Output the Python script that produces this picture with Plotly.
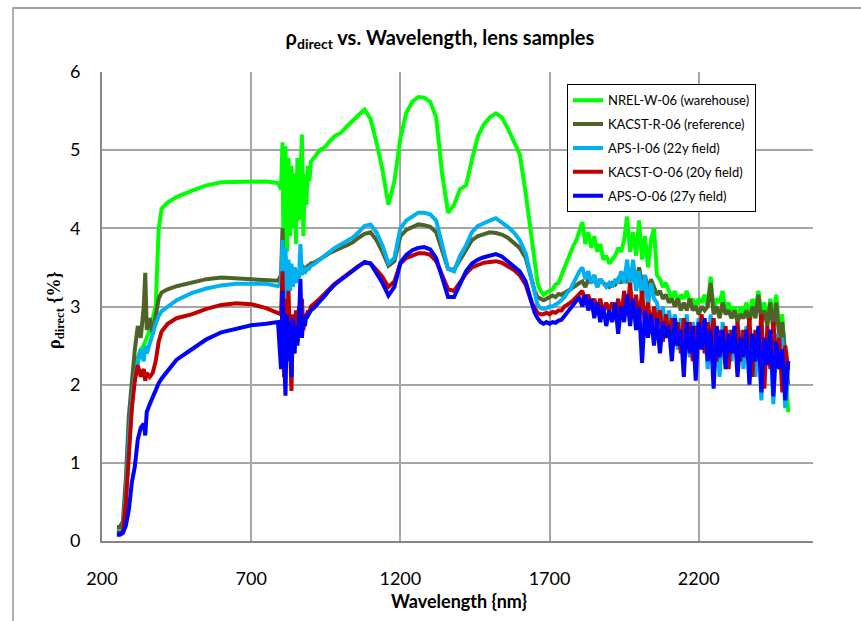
import plotly.graph_objects as go

# Sampling wavelengths (nm)
wavelength_nm = (
    [250, 260, 270, 280, 290, 300, 310, 320, 330, 340, 345, 350, 360,
     370, 380, 390, 400, 420, 450, 500, 550, 600, 650, 700, 750, 790]
    + list(range(800, 901, 5))
    + list(range(910, 1001, 10))
    + list(range(1020, 1641, 20))
    + list(range(1650, 2501, 10))
)

series_names = ["NREL-W-06 (warehouse)", "KACST-R-06 (reference)", "APS-I-06 (22y field)",
                "KACST-O-06 (20y field)", "APS-O-06 (27y field)"]

nrel_w = (
    [0.15, 0.15, 0.18, 0.5, 1.2, 1.8, 2.2, 2.35, 2.45, 2.5, 2.55, 2.6, 2.7,
     2.85, 3.0, 4.0, 4.25, 4.33, 4.4, 4.48, 4.55, 4.59, 4.59, 4.6, 4.6, 4.58]
    + [4.5, 5.1, 3.0, 5.05, 3.7, 4.9, 3.9, 4.8, 4.0, 4.7, 3.8, 4.9, 4.1, 4.6, 5.2, 3.9, 4.7, 4.3, 4.8, 4.6, 4.85]
    + [4.9, 4.95, 5.0, 5.02, 5.05, 5.1, 5.15, 5.18, 5.2, 5.22]
    + [5.3, 5.38, 5.45, 5.52, 5.4, 5.1, 4.75, 4.3, 4.6, 5.15, 5.48, 5.62, 5.68, 5.67, 5.62, 5.42,
       4.7, 4.2, 4.3, 4.5, 4.55, 4.88, 5.18, 5.33, 5.42, 5.47, 5.42, 5.28, 5.12, 4.95, 4.45, 3.85]
    + [3.55, 3.3, 3.2, 3.15, 3.18, 3.2, 3.22, 3.28, 3.3, 3.4,
       3.5, 3.6, 3.7, 3.78, 3.85, 3.95, 4.08, 3.8, 3.95, 3.75,
       3.9, 3.7, 3.8, 3.6, 3.65, 3.55, 3.6, 3.65, 3.75, 3.7,
       3.85, 4.15, 3.7, 3.95, 3.65, 4.1, 3.6, 3.9, 3.5, 3.85,
       4.0, 3.4, 3.35, 3.25, 3.3, 3.2, 3.1, 3.2, 3.05, 3.15,
       3.1, 3.2, 3.05, 3.1, 3.0, 3.1, 3.05, 3.15, 3.0, 3.38,
       2.95, 3.1, 3.05, 3.2, 2.95, 3.05, 2.9, 3.0, 2.85, 3.0,
       2.9, 3.05, 2.85, 3.1, 2.95, 3.2, 2.9, 3.05, 2.8, 3.1,
       2.85, 3.15, 2.7, 2.9, 2.3, 1.65]
)

kacst_r = (
    [0.18, 0.18, 0.25, 0.8, 1.6, 2.1, 2.45, 2.75, 2.6, 3.0, 3.43, 2.7, 2.85,
     2.65, 2.9, 3.1, 3.18, 3.22, 3.26, 3.3, 3.35, 3.37, 3.36, 3.35, 3.35, 3.33]
    + [3.4, 4.0, 3.3, 3.6, 3.35, 3.55, 3.4, 3.5, 3.35, 3.5, 3.4, 3.45, 3.4, 3.5, 3.45, 3.5, 3.48, 3.5, 3.52, 3.5, 3.55]
    + [3.56, 3.58, 3.6, 3.62, 3.65, 3.68, 3.7, 3.72, 3.73, 3.75]
    + [3.78, 3.82, 3.88, 3.93, 3.95, 3.85, 3.7, 3.52, 3.58, 3.9, 3.98, 4.02, 4.05, 4.04, 4.02, 3.95,
       3.7, 3.48, 3.47, 3.6, 3.72, 3.85, 3.9, 3.93, 3.95, 3.94, 3.92, 3.88, 3.82, 3.75, 3.62, 3.35]
    + [3.2, 3.12, 3.1, 3.08, 3.1, 3.12, 3.14, 3.12, 3.16, 3.15,
       3.18, 3.2, 3.22, 3.25, 3.28, 3.3, 3.32, 3.25, 3.35, 3.3,
       3.4, 3.25, 3.35, 3.3, 3.28, 3.25, 3.3, 3.28, 3.35, 3.3,
       3.4, 3.3, 3.45, 3.35, 3.3, 3.5, 3.3, 3.4, 3.2, 3.35,
       3.25, 3.15, 3.2, 3.1, 3.15, 3.05, 3.1, 3.0, 3.1, 2.95,
       3.05, 2.95, 3.1, 2.95, 3.0, 2.9, 3.0, 2.95, 3.0, 3.3,
       2.9, 3.0, 2.85, 3.05, 2.9, 2.95, 2.85, 2.95, 2.8, 2.9,
       2.85, 2.95, 2.8, 3.0, 2.85, 3.15, 2.8, 2.95, 2.75, 3.05,
       2.7, 3.05, 2.6, 2.8, 2.4, 2.0]
)

aps_i = (
    [0.12, 0.12, 0.15, 0.6, 1.3, 1.8, 2.1, 2.3, 2.45, 2.3, 2.5, 2.4, 2.55,
     2.65, 2.78, 2.88, 2.94, 3.0, 3.08, 3.17, 3.23, 3.27, 3.29, 3.29, 3.29, 3.26]
    + [3.3, 3.85, 3.0, 3.75, 3.1, 3.6, 3.2, 3.55, 3.25, 3.5, 3.3, 3.45, 3.35, 3.8, 3.4, 3.5, 3.42, 3.5, 3.48, 3.5, 3.52]
    + [3.54, 3.57, 3.6, 3.63, 3.66, 3.7, 3.73, 3.75, 3.77, 3.79]
    + [3.83, 3.88, 3.95, 4.03, 4.05, 3.95, 3.78, 3.55, 3.62, 4.0, 4.1, 4.15, 4.2, 4.2, 4.18, 4.1,
       3.78, 3.48, 3.45, 3.65, 3.78, 3.95, 4.03, 4.07, 4.1, 4.13, 4.08, 4.02, 3.95, 3.85, 3.68, 3.35]
    + [3.15, 3.02, 2.98, 2.97, 2.98, 3.0, 3.0, 3.02, 3.05, 3.08,
       3.12, 3.18, 3.22, 3.3, 3.38, 3.45, 3.5, 3.35, 3.45, 3.3,
       3.4, 3.25, 3.35, 3.3, 3.25, 3.3, 3.25, 3.35, 3.3, 3.45,
       3.3, 3.6, 3.25, 3.6, 3.2, 3.45, 3.1, 3.4, 3.0, 3.3,
       3.1, 3.05, 2.8, 3.0, 2.6, 2.95, 2.7, 2.9, 2.45, 2.85,
       2.6, 2.9, 2.35, 2.8, 2.55, 2.85, 2.5, 2.8, 2.2, 2.9,
       2.4, 2.75, 2.1, 2.8, 2.5, 2.7, 2.3, 2.75, 2.45, 2.7,
       2.2, 2.75, 2.4, 2.65, 2.1, 2.7, 1.8, 2.6, 2.3, 2.7,
       1.75, 2.65, 2.2, 2.6, 1.7, 2.3]
)

kacst_o = (
    [0.1, 0.1, 0.12, 0.5, 1.1, 1.7, 2.05, 2.25, 2.1, 2.2, 2.05, 2.15, 2.1,
     2.15, 2.3, 2.55, 2.68, 2.78, 2.85, 2.9, 2.97, 3.02, 3.04, 3.03, 2.98, 2.92]
    + [2.9, 3.45, 2.1, 3.1, 2.5, 3.2, 2.3, 1.92, 2.9, 2.4, 2.95, 2.55, 3.0, 2.6, 3.1, 2.7, 2.9, 2.85, 2.95, 2.92, 3.0]
    + [3.03, 3.06, 3.1, 3.14, 3.18, 3.22, 3.26, 3.29, 3.32, 3.35]
    + [3.4, 3.46, 3.52, 3.56, 3.55, 3.47, 3.38, 3.25, 3.32, 3.55, 3.62, 3.65, 3.68, 3.68, 3.66, 3.58,
       3.4, 3.22, 3.2, 3.32, 3.42, 3.5, 3.53, 3.56, 3.57, 3.58, 3.56, 3.52, 3.47, 3.4, 3.28, 3.05]
    + [2.98, 2.92, 2.9, 2.9, 2.92, 2.9, 2.93, 2.92, 2.95, 2.95,
       3.0, 3.02, 3.05, 3.08, 3.12, 3.15, 3.2, 3.05, 3.15, 3.0,
       3.1, 2.95, 3.1, 2.9, 3.05, 2.95, 3.05, 2.9, 3.1, 2.85,
       3.2, 2.9, 3.3, 2.85, 3.15, 2.8, 3.2, 2.75, 3.05, 2.7,
       3.0, 2.75, 2.95, 2.55, 2.9, 2.6, 2.85, 2.5, 2.8, 2.4,
       2.85, 2.6, 2.8, 2.3, 2.75, 2.55, 2.9, 2.4, 2.8, 2.5,
       2.85, 2.3, 2.7, 2.45, 2.75, 2.2, 2.7, 2.4, 2.8, 2.3,
       2.7, 2.45, 2.85, 2.1, 2.7, 2.4, 2.9, 1.95, 2.75, 2.2,
       2.8, 2.3, 2.6, 1.9, 2.5, 2.2]
)

aps_o = (
    [0.08, 0.08, 0.1, 0.2, 0.4, 0.75, 0.95, 1.3, 1.45, 1.5, 1.35, 1.65, 1.75,
     1.85, 1.95, 2.02, 2.08, 2.18, 2.32, 2.45, 2.58, 2.67, 2.72, 2.76, 2.78, 2.8]
    + [2.2, 3.2, 2.4, 1.86, 2.9, 2.3, 2.8, 2.1, 2.85, 2.4, 2.75, 2.5, 2.8, 3.35, 2.6, 2.85, 2.75, 2.9, 2.88, 2.92, 2.95]
    + [2.98, 3.02, 3.06, 3.1, 3.15, 3.2, 3.25, 3.28, 3.31, 3.34]
    + [3.39, 3.45, 3.52, 3.57, 3.55, 3.43, 3.3, 3.14, 3.25, 3.56, 3.66, 3.72, 3.75, 3.76, 3.73, 3.62,
       3.35, 3.12, 3.12, 3.3, 3.45, 3.55, 3.6, 3.63, 3.65, 3.67, 3.64, 3.58, 3.52, 3.45, 3.32, 3.05]
    + [2.92, 2.85, 2.8, 2.78, 2.8, 2.78, 2.8, 2.79, 2.82, 2.83,
       2.88, 2.92, 2.98, 3.02, 3.08, 3.12, 3.0, 3.15, 2.95, 3.1,
       2.85, 3.05, 2.8, 3.0, 2.75, 2.95, 2.8, 3.05, 2.65, 3.0,
       2.8, 3.15, 2.75, 3.1, 2.7, 3.0, 2.28, 2.95, 2.6, 2.9,
       2.5, 2.85, 2.4, 2.8, 2.6, 2.75, 2.3, 2.85, 2.5, 2.7,
       2.1, 2.8, 2.4, 2.75, 2.05, 2.8, 2.45, 2.85, 2.3, 2.7,
       1.95, 2.75, 2.35, 2.7, 2.2, 2.65, 2.4, 2.75, 2.1, 2.6,
       2.35, 2.7, 2.0, 2.65, 2.3, 2.75, 1.9, 2.6, 2.25, 2.7,
       1.85, 2.55, 2.2, 2.45, 1.8, 2.3]
)

series_values = [nrel_w, kacst_r, aps_i, kacst_o, aps_o]
series_colors = ["#00ff00", "#4f6228", "#00b0f0", "#c00000", "#0000ff"]

for vals in series_values:
    assert len(vals) == len(wavelength_nm), (len(vals), len(wavelength_nm))

fig = go.Figure()
for name, vals, col in zip(series_names, series_values, series_colors):
    fig.add_trace(go.Scatter(x=wavelength_nm, y=vals, mode="lines", name=name,
                             legendgroup=name,
                             line=dict(color=col, width=4)))

grid_col = "#a6a6a6"
axis_col = "#868686"
fig.update_layout(
    width=861, height=621,
    margin=dict(l=102, r=48, t=72, b=80),
    paper_bgcolor="white", plot_bgcolor="white",
    font=dict(family="Lato, sans-serif", color="black"),
    title=dict(text="<b>ρ<sub>direct</sub> vs. Wavelength, lens samples</b>",
               x=0.511, xref="container", xanchor="center",
               y=1 - 38 / 621, yref="container", yanchor="middle",
               font=dict(size=20, color="black")),
    xaxis=dict(range=[200, 2583], tick0=200, dtick=500, showgrid=True,
               gridcolor=grid_col, gridwidth=1.5, showline=True,
               linecolor=axis_col, linewidth=2, zeroline=False, ticks="",
               tickfont=dict(size=18), ticklabelstandoff=20),
    yaxis=dict(range=[0, 6], tick0=0, dtick=1, showgrid=True,
               gridcolor=grid_col, gridwidth=1.5, showline=True,
               linecolor=axis_col, linewidth=2, zeroline=False, ticks="",
               tickfont=dict(size=18), ticklabelstandoff=16),
    legend=dict(x=0.654, y=0.974, xanchor="left", yanchor="top",
                bgcolor="white", bordercolor="black", borderwidth=1,
                font=dict(size=13), tracegroupgap=4, itemwidth=30),
    showlegend=True,
)

fig.add_annotation(text="<b>Wavelength {nm}</b>", xref="paper", yref="paper",
                   x=(459 - 102) / 711, y=(541 - 601) / 469, showarrow=False,
                   xanchor="center", yanchor="middle", font=dict(size=18))
fig.add_annotation(text="<b>ρ<sub>direct</sub> {%}</b>", xref="paper", yref="paper",
                   x=(55 - 102) / 711, y=(541 - 310) / 469, showarrow=False,
                   textangle=-90, xanchor="center", yanchor="middle",
                   font=dict(size=18, family="Liberation Serif, serif"))

# outer chart-area border
fig.add_shape(type="rect", xref="paper", yref="paper",
              x0=(13 - 102) / 711, x1=(900 - 102) / 711,
              y0=(541 - 680) / 469, y1=(541 - 8) / 469,
              line=dict(color=axis_col, width=1.3), layer="below")

fig.write_html("out.html")
